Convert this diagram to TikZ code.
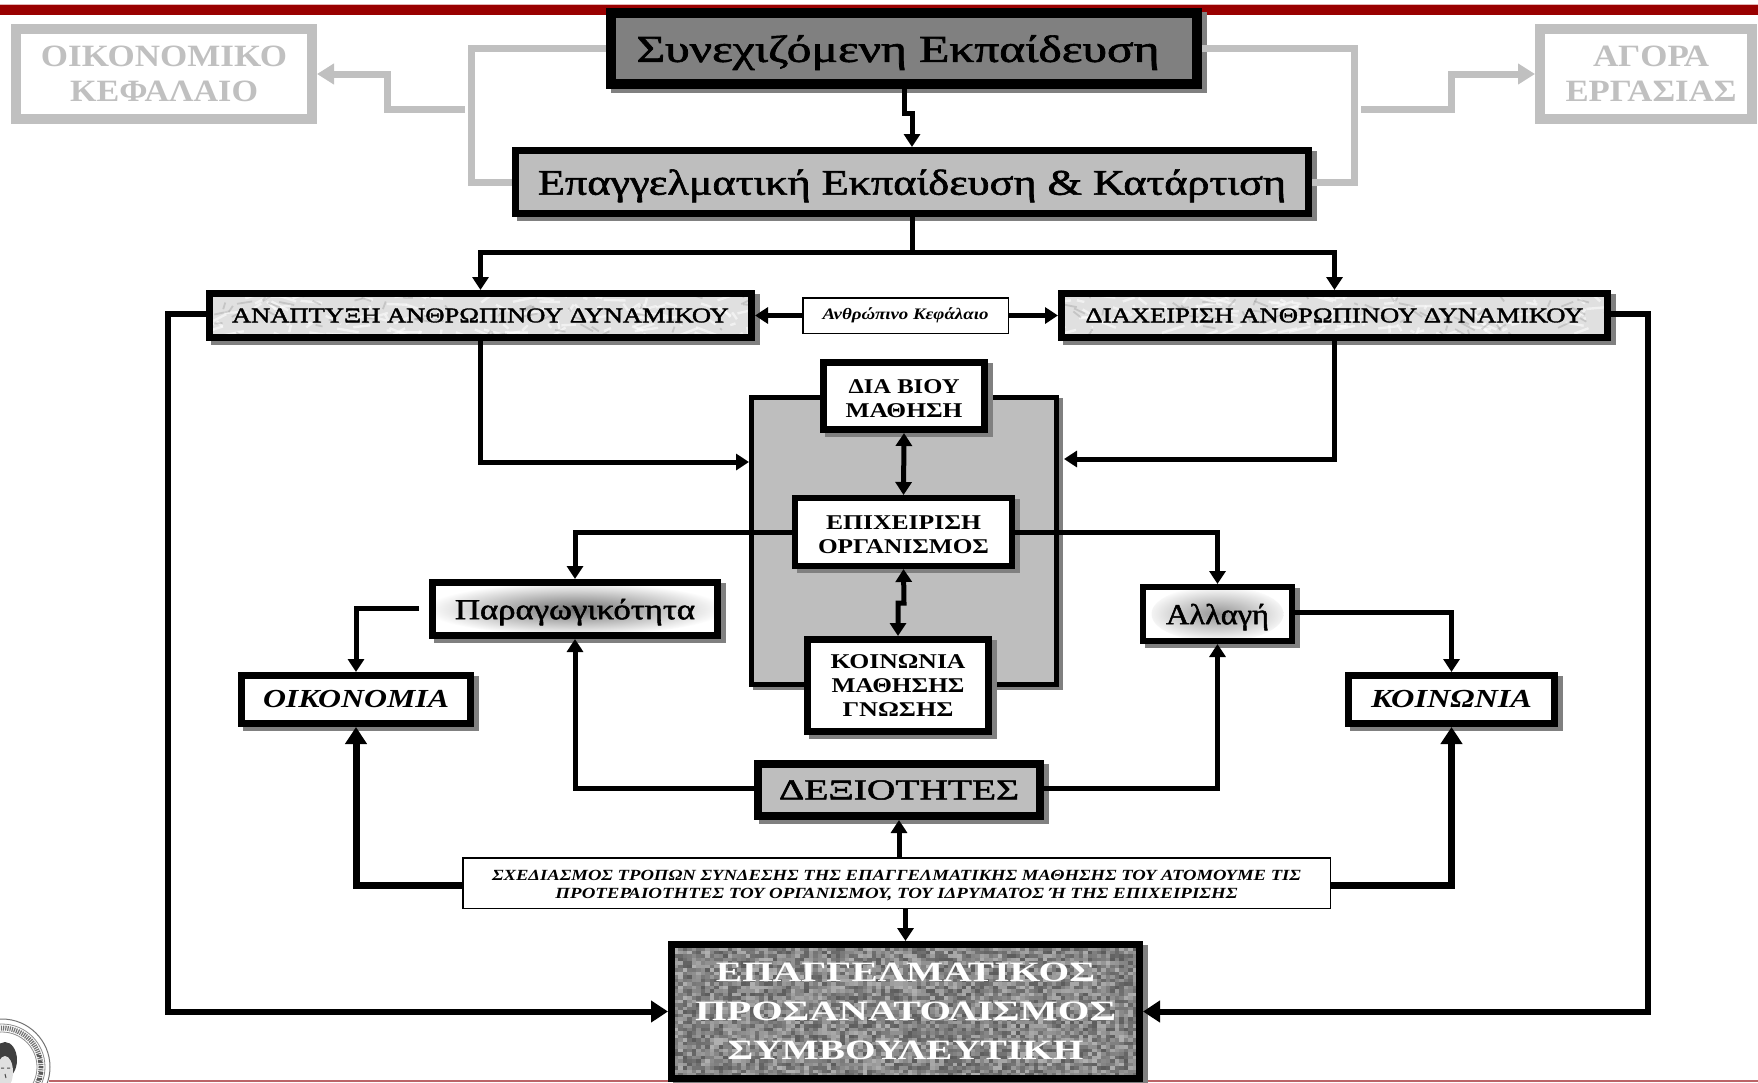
\documentclass[tikz,border=0pt]{standalone}
\usepackage{fontspec}
\usepackage{graphicx}
\setmainfont{Liberation Serif}
\newfontfamily\heavyf[FakeBold=1.6]{Liberation Serif}
\newfontfamily\lightbold[BoldFont={Liberation Serif Bold},FakeBold=1.2]{Liberation Serif}
\usetikzlibrary{arrows.meta,shadows}
\definecolor{barred}{HTML}{990000}
\definecolor{barpink}{HTML}{E3B5B5}
\definecolor{lowred}{HTML}{BC6468}
\definecolor{fade}{HTML}{C0C0C0}
\definecolor{midgray}{HTML}{808080}
\definecolor{lightgray}{HTML}{BEBEBE}
\newcommand{\Wd}[2]{\resizebox{#1pt}{\height}{#2}}
\newcommand{\Fs}[1]{\fontsize{#1}{#1}\selectfont}
\tikzset{
  outer/.style n args={3}{line width=#3pt,minimum width=#1pt-#3pt,minimum height=#2pt-#3pt,inner sep=0pt,align=center},
  boxed/.style={draw=black,fill=white,text=black},
  sh/.style={drop shadow={shadow xshift=5pt,shadow yshift=-4pt,fill=black!50,draw=black!50,opacity=1}},
  faded/.style={draw=fade,fill=white,text=fade},
  conn/.style={draw=black,line width=5pt,line join=miter,-{Triangle[length=13pt,width=16pt]}},
  plain/.style={draw=black,line width=5pt,line join=miter},
  twoway/.style={draw=black,line width=5pt,{Triangle[length=13pt,width=16pt]}-{Triangle[length=13pt,width=16pt]}},
  heavy/.style={draw=black,line width=7pt,line join=miter,-{Triangle[length=17pt,width=21pt]}},
  fadeline/.style={draw=fade,line width=7pt,line join=miter},
  fadearrow/.style={draw=fade,line width=7pt,line join=miter,-{Triangle[length=17pt,width=20pt]}},
  marble/.style={path picture={
      \pgfmathsetseed{#1}
      \foreach \i in {1,...,130}{
        \pgfmathsetmacro\pa{rand*275}\pgfmathsetmacro\pb{rand*22}
        \pgfmathsetmacro\pc{rand*24}\pgfmathsetmacro\pd{rand*9}
        \draw[white,opacity=.55,line width=2.4pt] ([shift={(\pa pt,\pb pt)}]path picture bounding box.center) -- ++(\pc pt,\pd pt);
      }
      \foreach \i in {1,...,60}{
        \pgfmathsetmacro\pa{rand*275}\pgfmathsetmacro\pb{rand*22}
        \pgfmathsetmacro\pc{rand*16}\pgfmathsetmacro\pd{rand*8}
        \draw[black!50,opacity=.28,line width=1.8pt] ([shift={(\pa pt,\pb pt)}]path picture bounding box.center) -- ++(\pc pt,\pd pt);
      }
    }},
  noise/.style={path picture={
      \pgfmathsetseed{4711}
      \foreach \xx in {-54,...,54}{
        \foreach \yy in {-21,...,21}{
          \pgfmathsetmacro\pv{int(48+rand*17)}
          \fill[black!\pv] ([shift={(\xx*4.5pt-2.5pt,\yy*3.5pt-2pt)}]path picture bounding box.center) rectangle ++(5pt,4pt);
        }
      }
    }},
  glowA/.style={path picture={
    \shade[inner color=black!55,outer color=white] (path picture bounding box.center) ellipse [x radius=150pt,y radius=26pt];}},
  glowB/.style={path picture={
    \shade[inner color=black!42,outer color=white] (path picture bounding box.center) ellipse [x radius=66pt,y radius=28pt];}},
}
\begin{document}
\begin{tikzpicture}[x=1pt,y=-1pt]
\useasboundingbox (0,0) rectangle (1758,1082);
% page decoration
\fill[barpink] (0,4) rectangle (1758,5.5);
\fill[barred] (0,5) rectangle (1758,15);
\draw[lowred,line width=1.5pt] (49,1081) -- (1758,1081);
% seal
\coordinate (seal) at (2,1067);
\draw[black!55,line width=1pt] (seal) circle [radius=48];
\draw[black!55,line width=5pt,dash pattern=on 1.2pt off 1pt] (seal) circle [radius=39];
\draw[black!45,line width=.8pt] (seal) circle [radius=43];
\draw[black!45,line width=.8pt] (seal) circle [radius=35];
\fill[black!75] (5,1060) ellipse [x radius=12,y radius=18];
\fill[black!12] (5,1072) ellipse [x radius=8,y radius=16];
\draw[black!70,line width=1pt] (1,1068) -- (4,1068) (7,1068) -- (10,1068) (5,1074) -- (6,1078);
\draw[black!65,line width=2pt] (37,1055) -- (41,1057) (38,1061) -- (42,1062) (39,1067) -- (43,1067) (39,1073) -- (43,1073) (37,1079) -- (42,1079);
% central panel
\node[boxed,fill=lightgray,outer={310}{292}{5},drop shadow={shadow xshift=4pt,shadow yshift=-3pt,fill=black!50,draw=black!50,opacity=1}] (core) at (904,541) {};
% faded side boxes
\node[faded,outer={306}{100}{10}] (kefal) at (164,74) {\Fs{31}\bfseries \Wd{246}{ΟΙΚΟΝΟΜΙΚΟ}\\[13pt]\Fs{31}\bfseries \Wd{188}{ΚΕΦΑΛΑΙΟ}};
\node[faded,outer={222}{100}{10}] (agora) at (1646,74) {\Fs{31}\bfseries\hspace*{10pt}\Wd{116}{ΑΓΟΡΑ}\\[13pt]\Fs{31}\bfseries\hspace*{10pt}\Wd{171}{ΕΡΓΑΣΙΑΣ}};
% main boxes
\node[boxed,fill=midgray,sh,text depth=0pt,outer={596}{81}{10}] (syn) at (904,48.5) {\heavyf\Fs{38}\hspace*{-12pt}\Wd{523}{Συνεχιζόμενη Εκπαίδευση}};
\node[boxed,fill=lightgray,sh,text depth=0pt,outer={800}{70}{7}] (epag) at (912,182) {\heavyf\Fs{36}\Wd{748}{Επαγγελματική Εκπαίδευση \& Κατάρτιση}};
\node[boxed,fill=black!12,sh,marble=11,outer={549}{51}{7}] (anap) at (480.5,315.5) {\heavyf\Fs{21}\Wd{497}{ΑΝΑΠΤΥΞΗ ΑΝΘΡΩΠΙΝΟΥ ΔΥΝΑΜΙΚΟΥ}};
\node[boxed,fill=black!12,sh,marble=23,outer={553}{51}{7}] (diax) at (1334.5,315.5) {\heavyf\Fs{21}\Wd{498}{ΔΙΑΧΕΙΡΙΣΗ ΑΝΘΡΩΠΙΝΟΥ ΔΥΝΑΜΙΚΟΥ}};
\node[boxed,outer={207}{37}{1.5}] (anthr) at (905.5,315.5) {\Fs{16}\bfseries\itshape \Wd{166}{Ανθρώπινο Κεφάλαιο}};
\node[boxed,sh,outer={168}{74}{7}] (dia) at (904,396) {\Fs{21}\bfseries\rule{0pt}{19pt}\Wd{111}{ΔΙΑ ΒΙΟΥ}\\[9pt]\Fs{21}\bfseries \Wd{117}{ΜΑΘΗΣΗ}};
\node[boxed,sh,outer={223}{74}{6}] (epix) at (903.5,532) {\Fs{21}\bfseries\rule{0pt}{19pt}\Wd{155}{ΕΠΙΧΕΙΡΙΣΗ}\\[9pt]\Fs{21}\bfseries \Wd{171}{ΟΡΓΑΝΙΣΜΟΣ}};
\node[boxed,sh,outer={188}{99}{7}] (koin) at (898,685.5) {\Fs{21}\bfseries \Wd{135}{ΚΟΙΝΩΝΙΑ}\\[9pt]\Fs{21}\bfseries \Wd{133}{ΜΑΘΗΣΗΣ}\\[9pt]\Fs{21}\bfseries \Wd{111}{ΓΝΩΣΗΣ}};
\node[boxed,sh,glowA,text depth=0pt,outer={292}{60}{7}] (parag) at (575,609) {\heavyf\Fs{29}\Wd{240}{Παραγωγικότητα}};
\node[boxed,sh,glowB,text depth=0pt,outer={155}{60}{6}] (allag) at (1217.5,614) {\heavyf\Fs{29}\Wd{103}{Αλλαγή}};
\node[boxed,sh,outer={236}{55}{7}] (oikon) at (356,699.5) {\Fs{26}\bfseries\itshape \Wd{186}{ΟΙΚΟΝΟΜΙΑ}};
\node[boxed,sh,outer={213}{55}{7}] (koinw) at (1451.5,699.5) {\Fs{26}\bfseries\itshape \Wd{161}{ΚΟΙΝΩΝΙΑ}};
\node[boxed,fill=lightgray,sh,outer={290}{60}{8}] (dex) at (899,790) {\heavyf\Fs{29}\Wd{240}{ΔΕΞΙΟΤΗΤΕΣ}};
\node[boxed,outer={869}{52}{1.5}] (design) at (896.5,883) {\Fs{15.5}\bfseries\itshape\rule{0pt}{15pt}\Wd{809}{ΣΧΕΔΙΑΣΜΟΣ ΤΡΟΠΩΝ ΣΥΝΔΕΣΗΣ ΤΗΣ ΕΠΑΓΓΕΛΜΑΤΙΚΗΣ ΜΑΘΗΣΗΣ ΤΟΥ ΑΤΟΜΟΥΜΕ ΤΙΣ}\\[6.5pt]\Fs{15.5}\bfseries\itshape \Wd{682}{ΠΡΟΤΕΡΑΙΟΤΗΤΕΣ ΤΟΥ ΟΡΓΑΝΙΣΜΟΥ, ΤΟΥ ΙΔΡΥΜΑΤΟΣ Ή ΤΗΣ ΕΠΙΧΕΙΡΙΣΗΣ}};
\node[boxed,fill=midgray,text=white,sh,noise,outer={475}{141}{7}] (bottom) at (905.5,1011.5) {\Fs{28}\bfseries \Wd{379}{ΕΠΑΓΓΕΛΜΑΤΙΚΟΣ}\\[19.5pt]\Fs{28}\bfseries \Wd{421}{ΠΡΟΣΑΝΑΤΟΛΙΣΜΟΣ}\\[19.5pt]\Fs{28}\bfseries \Wd{356}{ΣΥΜΒΟΥΛΕΥΤΙΚΗ}};
% helper coordinates
\coordinate (fadeL) at (471,100);
\coordinate (fadeR) at (1354,100);
\coordinate (kefA) at (465,109);
\coordinate (kefB) at (387,74);
\coordinate (agoA) at (1361,109);
\coordinate (agoB) at (1451,74);
\coordinate (jogA) at (904,113);
\coordinate (jogB) at (912,113);
\coordinate (teeC) at (912,252);
\coordinate (outL) at (168,600);
\coordinate (outR) at (1648,600);
\coordinate (inL) at (749,462);
\coordinate (inR) at (1064,459);
\coordinate (jigA) at (904,603);
\coordinate (jigB) at (898,603);
\coordinate (stub) at (419,608);
% faded connectors
\draw[fadeline] (syn.west) -| (fadeL) |- (epag.west);
\draw[fadeline] (syn.east) -| (fadeR) |- (epag.east);
\draw[fadearrow] (kefA) -| (kefB) -- (kefal.east);
\draw[fadearrow] (agoA) -| (agoB) -- (agora.west);
% main connectors
\draw[conn] (syn.south) -- (jogA) -- (jogB) -- (epag.north);
\draw[plain] (epag.south) -- (teeC);
\draw[conn] (teeC) -| (anap.north);
\draw[conn] (teeC) -| (diax.north);
\draw[conn] (anthr.west) -- (anap.east);
\draw[conn] (anthr.east) -- (diax.west);
\draw[conn] (anap.south) |- (inL);
\draw[conn] (diax.south) |- (inR);
\draw[twoway] (dia.south) -- (epix.north);
\draw[twoway] (epix.south) -- (jigA) -- (jigB) -- (koin.north);
\draw[conn] (epix.west) -| (parag.north);
\draw[conn] (epix.east) -| (allag.north);
\draw[conn] (stub) -| (oikon.north);
\draw[conn] ([yshift=2pt]allag.east) -| (koinw.north);
\draw[conn] ([yshift=2pt]dex.west) -| (parag.south);
\draw[conn] ([yshift=2pt]dex.east) -| (allag.south);
\draw[conn] (design.north -| dex.south) -- (dex.south);
\draw[conn] (design.south -| bottom.north) -- (bottom.north);
\draw[heavy] ([yshift=-2pt]design.west) -| (oikon.south);
\draw[heavy] ([yshift=-2pt]design.east) -| (koinw.south);
\draw[heavy,line width=6pt] ([yshift=2pt]anap.west) -| (outL) |- (bottom.west);
\draw[heavy,line width=6pt] ([yshift=2pt]diax.east) -| (outR) |- (bottom.east);
\end{tikzpicture}
\end{document}
